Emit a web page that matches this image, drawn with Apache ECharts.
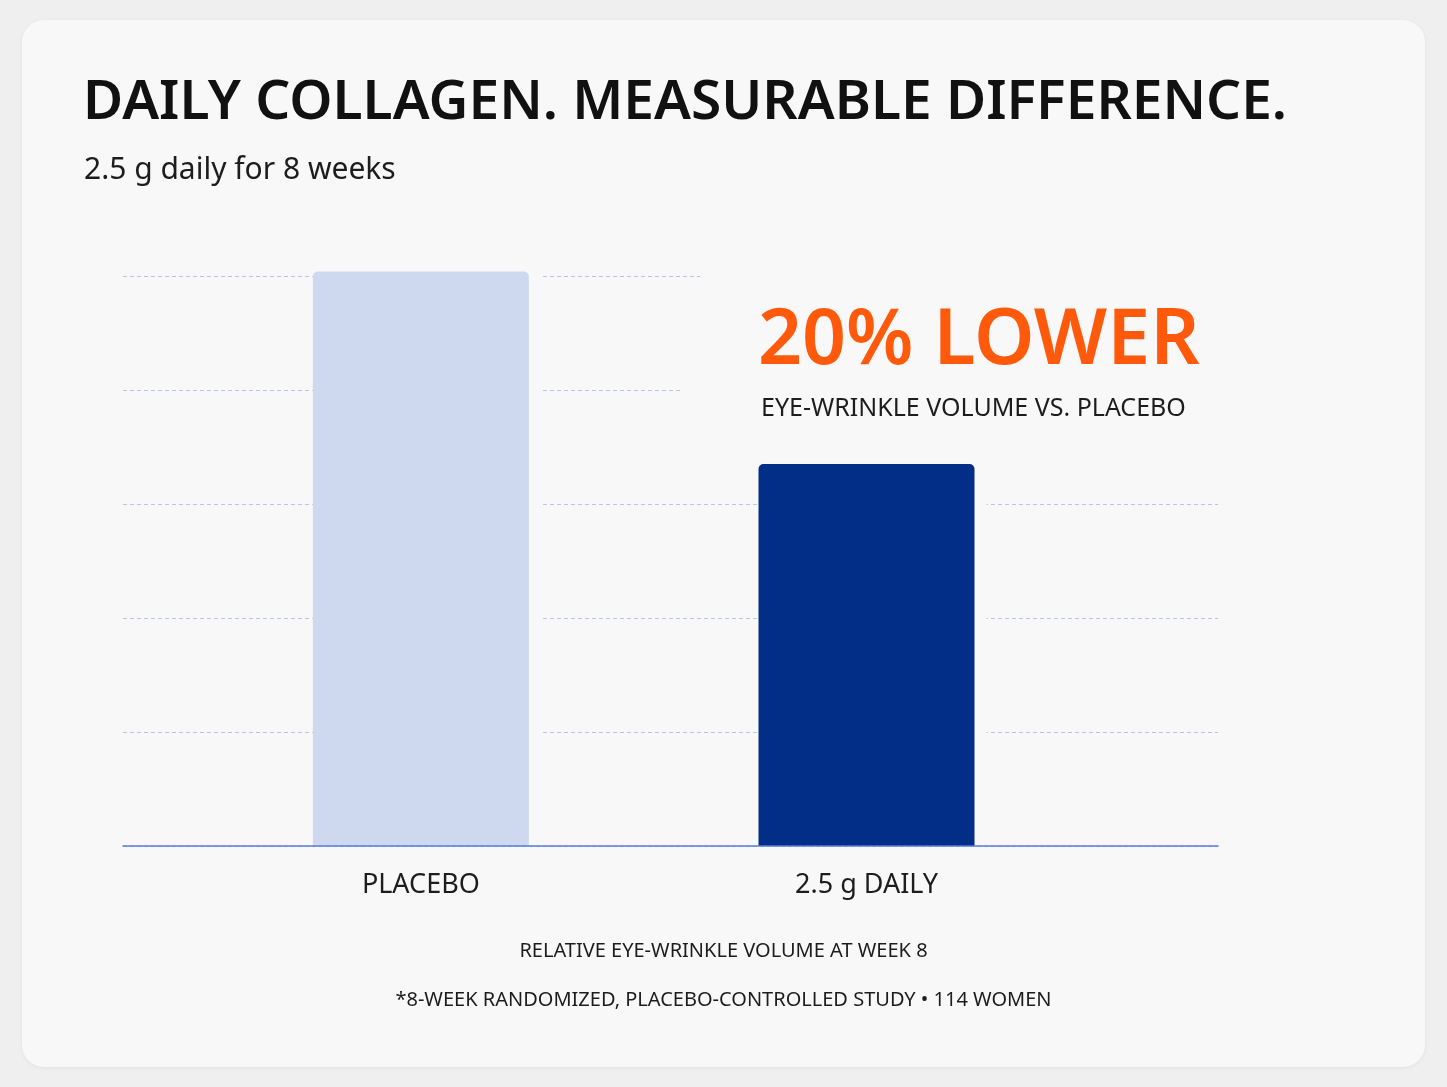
<!DOCTYPE html>
<html lang="en">
<head>
<meta charset="UTF-8">
<title>Daily collagen</title>
<script src="https://cdn.jsdelivr.net/npm/echarts@6/dist/echarts.min.js"></script>
<style>
  html, body { margin: 0; padding: 0; background: #efefef; }
  #card { position: absolute; left: 22px; top: 20px; width: 1403px; height: 1047px;
          background: #f8f8f8; border-radius: 22px; box-shadow: 0 1px 4px rgba(0,0,0,0.06); }
  #main { position: absolute; left: 0; top: 0; width: 1447px; height: 1087px; }
</style>
</head>
<body>
<div id="card"></div>
<div id="main"></div>
<script>
// data
var categories = ['PLACEBO', '2.5 g DAILY'];
var positions = [27.2, 67.9];        // where each bar sits along the baseline (0-100)
var values = [100, 67];              // relative eye-wrinkle volume
var barColors = ['#ced8ef', '#022e87'];

var cardBg = '#f8f8f8';
var font = '"Noto Sans", sans-serif';

var chart = echarts.init(document.getElementById('main'));

var option = {
  animation: false,
  grid: { left: 123, right: 229, top: 276, bottom: 241 },
  xAxis: {
    type: 'value', min: 0, max: 100, z: 10,
    splitLine: { show: false },
    axisLine: { show: true, lineStyle: { color: '#5b7bd8', width: 1.5 } },
    axisTick: { show: false },
    axisLabel: {
      customValues: positions,
      formatter: function (v) { return categories[positions.indexOf(v)]; },
      margin: 26, fontSize: 27, color: '#1d1d1d', fontFamily: font
    }
  },
  yAxis: {
    type: 'value', min: 0, max: 100, interval: 20,
    axisLine: { show: false }, axisTick: { show: false }, axisLabel: { show: false },
    splitLine: { lineStyle: { color: '#b4c6ee', type: [4, 3], width: 1 } }
  },
  series: [
    { // card-coloured halo that breaks grid lines around the bars
      type: 'bar', barWidth: 228, barGap: '-100%', clip: false, z: 1, silent: true,
      data: values.map(function (v, i) { return [positions[i], v + 1.5]; }),
      itemStyle: { color: cardBg }
    },
    {
      type: 'bar', barWidth: 216, barGap: '-100%', clip: false, z: 2,
      data: values.map(function (v, i) {
        return { value: [positions[i], v + (i === 0 ? 0.8 : 0)], itemStyle: { color: barColors[i] } };
      }),
      itemStyle: { borderRadius: [5, 5, 0, 0] }
    }
  ],
  graphic: [
    { type: 'rect', z: 1, shape: { x: 700, y: 270, width: 530, height: 20 }, style: { fill: cardBg } },
    { type: 'rect', z: 1, shape: { x: 683, y: 284, width: 547, height: 148 }, style: { fill: cardBg } },
    { type: 'text', left: 83, top: 76, style: { text: 'DAILY COLLAGEN. MEASURABLE DIFFERENCE.',
      font: '600 55px ' + font, fill: '#111' } },
    { type: 'text', left: 84, top: 155, style: { text: '2.5 g daily for 8 weeks',
      font: '30px ' + font, fill: '#1d1d1d' } },
    { type: 'text', left: 758, top: 304, z: 5, style: { text: '20% LOWER',
      font: '600 77px ' + font, fill: '#ff5a0c' } },
    { type: 'text', left: 761, top: 396, z: 5, style: { text: 'EYE-WRINKLE VOLUME VS. PLACEBO',
      font: '25px ' + font, fill: '#1d1d1d' } },
    { type: 'text', left: 'center', top: 941, style: { text: 'RELATIVE EYE-WRINKLE VOLUME AT WEEK 8',
      font: '20px ' + font, fill: '#1d1d1d' } },
    { type: 'text', left: 'center', top: 990, style: { text: '*8-WEEK RANDOMIZED, PLACEBO-CONTROLLED STUDY \u2022 114 WOMEN',
      font: '20px ' + font, fill: '#1d1d1d' } }
  ]
};

chart.setOption(option);
</script>
</body>
</html>
